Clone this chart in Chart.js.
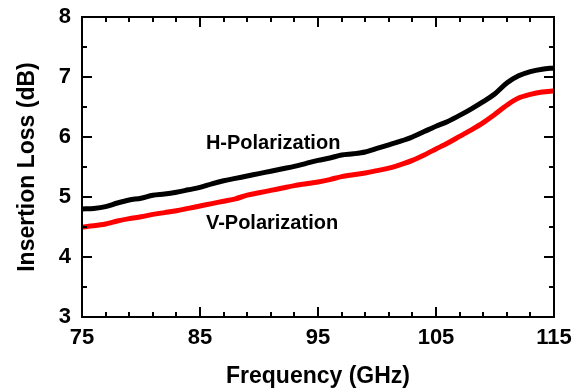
<!DOCTYPE html>
<html>
<head>
<meta charset="utf-8">
<script src="https://cdn.jsdelivr.net/npm/chart.js@4/dist/chart.umd.min.js"></script>
<style>
  html, body { margin: 0; padding: 0; background: #fff; }
  #wrap { width: 574px; height: 391px; }
</style>
</head>
<body>
<div id="wrap"><canvas id="c" width="574" height="391"></canvas></div>
<script>
// Measured insertion loss versus frequency for the two polarizations
const frequencies = [75, 76, 77, 78, 79, 80, 81, 82, 83, 84, 85, 86, 87, 88, 89, 90, 91, 92, 93, 94, 95,
                     96, 97, 98, 99, 100, 101, 102, 103, 104, 105, 106, 107, 108, 109, 110, 111, 112, 113, 114, 115];
const hPolarization = [4.80, 4.81, 4.84, 4.90, 4.95, 4.98, 5.03, 5.05, 5.08, 5.12, 5.16, 5.22, 5.27, 5.31, 5.35,
                       5.39, 5.43, 5.47, 5.51, 5.56, 5.61, 5.65, 5.70, 5.72, 5.75, 5.81, 5.87, 5.93, 6.00, 6.09,
                       6.18, 6.26, 6.36, 6.47, 6.59, 6.72, 6.90, 7.02, 7.09, 7.13, 7.15];
const vPolarization = [4.50, 4.52, 4.55, 4.60, 4.64, 4.67, 4.71, 4.74, 4.77, 4.81, 4.85, 4.89, 4.93, 4.97, 5.03,
                       5.07, 5.11, 5.15, 5.19, 5.22, 5.25, 5.29, 5.34, 5.37, 5.40, 5.44, 5.48, 5.54, 5.61, 5.70,
                       5.80, 5.90, 6.01, 6.12, 6.24, 6.38, 6.53, 6.65, 6.71, 6.75, 6.77];
const seriesLabels = ['H-Polarization', 'V-Polarization'];
const xTickValues = [75, 85, 95, 105, 115];
const yTickValues = [3, 4, 5, 6, 7, 8];

const FONT = "'Liberation Sans', Arial, Helvetica, sans-serif";

// Closed frame with inward major/minor ticks on all four sides, plus in-plot series labels
const framePlugin = {
  id: 'frame',
  afterDatasetsDraw(chart, args, opts) {
    const { ctx, chartArea: a, scales: { x, y } } = chart;
    ctx.save();
    ctx.strokeStyle = '#000';
    ctx.lineWidth = 2;
    ctx.lineCap = 'butt';

    const nx = Math.round((x.max - x.min) / opts.xMinor);
    for (let i = 0; i <= nx; i++) {
      const v = x.min + i * opts.xMinor;
      const isMajor = xTickValues.includes(v);
      const len = isMajor ? opts.majorLen : opts.minorLen;
      const px = Math.round(x.getPixelForValue(v));
      ctx.beginPath();
      ctx.moveTo(px, a.bottom); ctx.lineTo(px, a.bottom - len);
      ctx.moveTo(px, a.top); ctx.lineTo(px, a.top + len);
      ctx.stroke();
    }
    const ny = Math.round((y.max - y.min) / opts.yMinor);
    for (let i = 0; i <= ny; i++) {
      const v = y.min + i * opts.yMinor;
      const isMajor = yTickValues.includes(v);
      const len = isMajor ? opts.majorLen : opts.minorLen;
      const py = Math.round(y.getPixelForValue(v));
      ctx.beginPath();
      ctx.moveTo(a.left, py); ctx.lineTo(a.left + len, py);
      ctx.moveTo(a.right, py); ctx.lineTo(a.right - len, py);
      ctx.stroke();
    }
    ctx.strokeRect(Math.round(a.left), Math.round(a.top),
                   Math.round(a.right - a.left), Math.round(a.bottom - a.top));

    ctx.fillStyle = '#000';
    ctx.font = 'bold 20px ' + FONT;
    ctx.textAlign = 'left';
    ctx.textBaseline = 'alphabetic';
    opts.notes.forEach(n => {
      ctx.fillText(n.text, x.getPixelForValue(n.x), y.getPixelForValue(n.y));
    });
    ctx.restore();
  }
};

const toPoints = ys => frequencies.map((f, i) => ({ x: f, y: ys[i] }));

// Axis boxes get fixed sizes so the plot area stays put
const fixAxisX = s => { s.height = 74; s.paddingLeft = 0; s.paddingRight = 0; };
const fixAxisY = s => { s.width = 82; s.paddingTop = 0; s.paddingBottom = 0; };

new Chart(document.getElementById('c'), {
  type: 'line',
  data: {
    datasets: [
      { label: seriesLabels[0], data: toPoints(hPolarization), borderColor: '#000000',
        borderWidth: 5, pointRadius: 0, tension: 0.3, fill: false },
      { label: seriesLabels[1], data: toPoints(vPolarization), borderColor: '#ff0000',
        borderWidth: 5, pointRadius: 0, tension: 0.3, fill: false }
    ]
  },
  options: {
    responsive: false,
    devicePixelRatio: 1,
    animation: false,
    layout: { padding: { top: 17, right: 20, bottom: 0, left: 0 } },
    plugins: {
      legend: { display: false },
      tooltip: { enabled: false },
      frame: {
        xMinor: 2, yMinor: 0.5, majorLen: 10, minorLen: 5,
        notes: [
          { text: seriesLabels[0], x: 85.5, y: 5.80 },
          { text: seriesLabels[1], x: 85.5, y: 4.47 }
        ]
      }
    },
    scales: {
      x: {
        type: 'linear', position: 'bottom', min: 75, max: 115,
        afterBuildTicks: s => { s.ticks = xTickValues.map(v => ({ value: v })); },
        afterFit: fixAxisX,
        grid: { display: false, drawTicks: false },
        border: { display: false },
        ticks: { autoSkip: false, maxRotation: 0, padding: 8, color: '#000',
                 font: { family: FONT, size: 22, weight: 'bold' } },
        title: { display: true, text: 'Frequency (GHz)', color: '#000',
                 padding: { top: 0, bottom: 1 },
                 font: { family: FONT, size: 23, weight: 'bold' } }
      },
      y: {
        type: 'linear', position: 'left', min: 3, max: 8,
        afterBuildTicks: s => { s.ticks = yTickValues.map(v => ({ value: v })); },
        afterFit: fixAxisY,
        grid: { display: false, drawTicks: false },
        border: { display: false },
        ticks: { autoSkip: false, padding: 11, color: '#000',
                 font: { family: FONT, size: 22, weight: 'bold' } },
        title: { display: true, text: 'Insertion Loss (dB)', color: '#000',
                 padding: { top: 14, bottom: 0 },
                 font: { family: FONT, size: 23, weight: 'bold' } }
      }
    }
  },
  plugins: [framePlugin]
});
</script>
</body>
</html>
